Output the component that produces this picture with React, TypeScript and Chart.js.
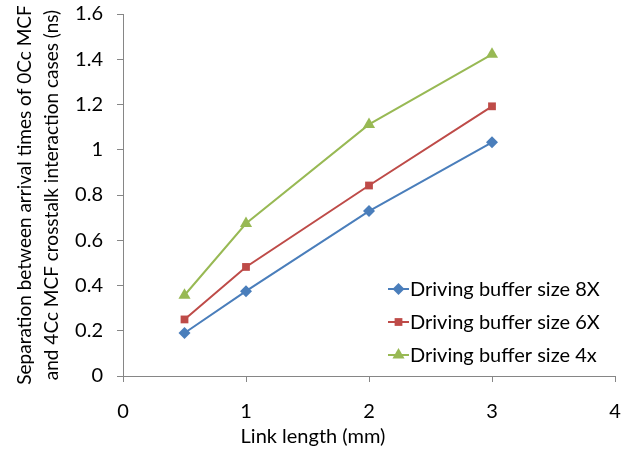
import React, { useEffect, useRef } from 'react';
import { Chart, registerables } from 'chart.js';
import { drawPoint } from 'chart.js/helpers';

Chart.register(...registerables);

const linkLength = [0.5, 1, 2, 3];
const size8X = [0.19, 0.375, 0.729, 1.033];
const size6X = [0.25, 0.482, 0.842, 1.192];
const size4x = [0.357, 0.674, 1.112, 1.422];
const seriesNames = ['Driving buffer size 8X', 'Driving buffer size 6X', 'Driving buffer size 4x'];
const seriesColors = ['#4A7EBB', '#BE4B48', '#98B954'];
const pointStyles = ['rectRot', 'rect', 'triangle'];
const pointRadii = [6, 5.5, 7];
const yTitle = ['Separation between arrival times of 0Cc MCF', 'and 4Cc MCF crosstalk interaction cases (ns)'];
const xTitle = 'Link length (mm)';

const FONT = 'Lato, "Open Sans", sans-serif';
const FS = 20;

const customText = {
  id: 'customText',
  afterDraw(chart: any) {
    const ctx = chart.ctx;
    ctx.save();
    ctx.fillStyle = '#000';
    ctx.font = `${FS}px ${FONT}`;
    ctx.textAlign = 'center';
    ctx.textBaseline = 'middle';
    ctx.fillText(xTitle, 313, 437);
    const rows = [289, 322, 355];
    chart.data.datasets.forEach((ds: any, i: number) => {
      const y = rows[i];
      ctx.strokeStyle = ds.borderColor;
      ctx.lineWidth = 2;
      ctx.beginPath();
      ctx.moveTo(388, y);
      ctx.lineTo(409, y);
      ctx.stroke();
      ctx.fillStyle = ds.backgroundColor;
      drawPoint(ctx, { pointStyle: ds.pointStyle, radius: ds.pointRadius, rotation: 0, borderWidth: 0 }, 398.5, y);
      ctx.fillStyle = '#000';
      ctx.textAlign = 'left';
      ctx.fillText(ds.label, 410, y + 1);
    });
    ctx.restore();
  },
};

export default function App() {
  const ref = useRef<HTMLCanvasElement>(null);
  useEffect(() => {
    const mk = (data: number[], i: number) => ({
      label: seriesNames[i],
      data: linkLength.map((x, j) => ({ x, y: data[j] })),
      borderColor: seriesColors[i],
      backgroundColor: seriesColors[i],
      borderWidth: 2,
      pointStyle: pointStyles[i],
      pointRadius: pointRadii[i],
      pointBorderWidth: 0,
      tension: 0,
    });
    const chart = new Chart(ref.current!, {
      type: 'line',
      data: { datasets: [mk(size8X, 0), mk(size6X, 1), mk(size4x, 2)] },
      plugins: [customText],
      options: {
        animation: false,
        responsive: false,
        layout: { padding: { top: 14, right: 5, left: 0, bottom: 0 } },
        plugins: { legend: { display: false }, tooltip: { enabled: false } },
        scales: {
          x: {
            type: 'linear',
            min: 0,
            max: 4,
            ticks: { stepSize: 1, color: '#000', font: { family: FONT, size: FS }, padding: 18 },
            grid: { drawOnChartArea: false, drawTicks: true, tickLength: 6, color: '#868686' },
            border: { color: '#868686', width: 1 },
            afterFit: (s: any) => { s.height = 77; s.paddingLeft = 0; s.paddingRight = 0; },
          },
          y: {
            min: 0,
            max: 1.6,
            ticks: { stepSize: 0.2, color: '#000', font: { family: FONT, size: FS }, padding: 14,
              callback: (v: any) => String(Math.round(Number(v) * 10) / 10) },
            grid: { drawOnChartArea: false, drawTicks: true, tickLength: 6, color: '#868686' },
            border: { color: '#868686', width: 1 },
            title: { display: true, text: yTitle, color: '#000', font: { family: FONT, size: 19, lineHeight: 1.45 }, padding: { top: 11, bottom: 0 } },
            afterFit: (s: any) => { s.width = 123; s.paddingTop = 0; s.paddingBottom = 0; },
          },
        },
      },
    });
    return () => chart.destroy();
  }, []);
  return (
    <div style={{ position: 'absolute', left: 0, top: 0, width: 622, height: 453, background: '#fff' }}>
      <canvas ref={ref} width={622} height={453} style={{ width: 622, height: 453 }} />
    </div>
  );
}
